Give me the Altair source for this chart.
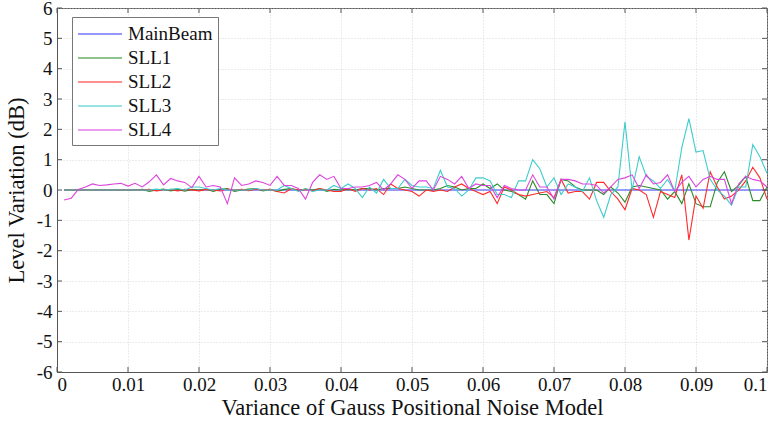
import altair as alt
import pandas as pd

# sampling grid: 0.001 .. 0.100
x_vals = [round(0.001 * i, 3) for i in range(1, 101)]

series_names = ["MainBeam", "SLL1", "SLL2", "SLL3", "SLL4"]
series_colors = ["#3a3aff", "#2a8c2a", "#ff2a2a", "#3ccccc", "#dd44dd"]

main_beam = [0.0] * 100

sll1 = [0, 0, 0, 0, 0, 0, 0, 0, 0, 0,
        0, 0.02, -0.05, 0, 0.03, -0.03, 0.02, -0.04, 0.02, 0,
        0.03, -0.05, 0.02, 0.05, -0.05, 0, 0.03, 0.05, -0.03, 0.02,
        -0.05, 0.02, 0.05, -0.02, 0.03, 0, 0.05, -0.05, 0.02, 0,
        0.02, 0, 0.05, 0.05, 0, 0.05, 0.05, 0.05, 0.1, 0.05,
        0, 0, 0, 0.05, 0.15, 0.1, 0, 0.05, 0.05, 0.2,
        0.05, 0.2, 0, -0.05, -0.15, -0.3, 0.3, -0.15, -0.15, -0.45,
        0.35, 0.3, 0.1, 0, 0, 0, -0.15, 0.1, -0.1, -0.4,
        0.1, 0.15, 0.1, 0.05, 0, -0.3, -0.05, -0.45, 0.2, -0.45,
        -0.55, -0.55, 0.25, 0.6, -0.05, 0.15, 0.45, -0.35, -0.35, 0.1]

sll2 = [0, 0, 0, 0, 0, 0, 0, 0, 0, 0,
        0, 0, 0.02, -0.03, 0, 0.02, -0.03, 0.02, 0, -0.03,
        0.02, 0, -0.03, 0.03, 0, 0.02, -0.02, 0.03, 0, 0.02,
        -0.05, -0.1, 0.05, 0, 0.02, -0.03, 0.05, 0, -0.05, -0.05,
        0.05, -0.05, 0.05, 0, 0.05, -0.15, 0.2, 0.05, 0, -0.05,
        -0.2, 0, -0.05, 0, -0.05, 0.1, 0.2, 0.05, -0.05, -0.15,
        -0.05, -0.45, 0.1, 0, -0.15, -0.2, -0.15, -0.1, -0.05, -0.25,
        0.35, -0.1, -0.05, -0.05, -0.3, 0.25, 0.25, -0.05, -0.3, -0.65,
        0.05, 0, -0.15, -0.9, -0.05, -0.15, -0.25, 0.5, -1.65, -0.2,
        -0.6, 0.6, 0.1, -0.3, -0.2, 0, 0.3, 0.75, 0.4, -0.3]

sll3 = [0, 0, 0, 0, 0, 0, 0, 0, 0, 0,
        0, 0, 0, 0.03, 0, 0.02, 0.05, 0, 0.1, 0.1,
        0.05, 0, 0.05, 0, 0, 0, 0, 0.05, 0, 0,
        0, 0.15, 0.05, -0.05, 0.05, -0.05, 0, 0, 0.15, 0.05,
        0.2, 0.05, -0.25, 0.1, -0.1, 0.35, 0.05, 0.05, 0.35, 0.15,
        0.1, 0.1, 0.05, 0.65, 0.1, 0.05, -0.2, 0, 0.4, 0.4,
        0.3, -0.15, -0.15, -0.25, 0.3, 0.3, 1.0, 0.7, 0.1, 0.4,
        -0.15, 0.2, 0.1, -0.05, 0.4, -0.35, -0.9, -0.15, 0.1, 2.25,
        0, 1.1, 0.45, 0.3, 0.05, 0.35, -0.05, 1.4, 2.35, 1.25,
        1.3, 0.35, 0, -0.2, -0.5, 0.1, 0.1, 1.5, 1.1, 0.55]

sll4 = [-0.33, -0.27, 0.02, 0.1, 0.2, 0.15, 0.17, 0.2, 0.22, 0.13,
        0.22, 0.1, 0.27, 0.5, 0.17, 0.38, 0.3, 0.25, 0.08, 0.45,
        0.1, 0.15, 0.1, -0.45, 0.4, 0.15, 0.2, 0.3, 0.25, 0.15,
        0.45, 0.15, 0.15, 0.05, -0.3, 0.25, 0.5, 0.35, 0.45, 0.05,
        0.05, 0.1, 0.1, 0.15, 0.25, 0, 0.2, 0.5, 0.35, 0.05,
        0.3, 0.3, 0, 0.45, 0.35, 0.2, 0.45, 0.05, 0.2, 0.15,
        0.15, -0.25, 0.15, 0.05, 0, 0, 0.5, 0.1, 0.1, -0.3,
        0.35, 0.35, 0.3, 0.2, 0.2, 0.15, -0.1, 0.1, 0.35, 0.4,
        0.5, 0.05, 0.5, 0.2, 0.25, 0.5, -0.05, 0.25, 0.45, 0.1,
        0.35, 0.45, 0.35, 0.35, -0.45, 0.2, 0.45, 0.35, 0.3, 0.1]

x_ticks = [0, 0.01, 0.02, 0.03, 0.04, 0.05, 0.06, 0.07, 0.08, 0.09, 0.1]
y_ticks = [-6, -5, -4, -3, -2, -1, 0, 1, 2, 3, 4, 5, 6]

rows = []
for order, (name, vals) in enumerate(zip(series_names, [main_beam, sll1, sll2, sll3, sll4])):
    for xv, yv in zip(x_vals, vals):
        rows.append({"x": xv, "y": yv, "series": name, "order": order})
df = pd.DataFrame(rows)
xt = pd.DataFrame({"x": x_ticks})
yt = pd.DataFrame({"y": y_ticks})

FONT = "Liberation Serif"
W, H = 710, 364
TICK = 5
TICK_COLOR = "#555"

x_scale = alt.Scale(domain=[0, 0.1], nice=False)
y_scale = alt.Scale(domain=[-6, 6], nice=False)

x_axis = alt.Axis(values=x_ticks, labelExpr="'' + datum.value",
                  title="Variance of Gauss Positional Noise Model",
                  titlePadding=2, labelPadding=3, ticks=False,
                  labelOverlap=False)
y_axis = alt.Axis(values=y_ticks, labelExpr="'' + datum.value",
                  title="Level Variation (dB)",
                  titlePadding=8, labelPadding=5, ticks=False,
                  labelOverlap=False)

lines = alt.Chart(df).mark_line(strokeWidth=1.1).encode(
    x=alt.X("x:Q", scale=x_scale, axis=x_axis),
    y=alt.Y("y:Q", scale=y_scale, axis=y_axis),
    color=alt.Color("series:N",
                    scale=alt.Scale(domain=series_names, range=series_colors),
                    sort=series_names,
                    legend=alt.Legend(title=None, orient="none",
                                      legendX=15, legendY=9,
                                      fillColor="white", strokeColor="#777",
                                      padding=5, rowPadding=2,
                                      symbolType="M-1,0H3", symbolSize=484,
                                      symbolStrokeWidth=1.5, symbolOpacity=0.7,
                                      symbolFillColor="transparent",
                                      labelFont=FONT, labelFontSize=19,
                                      labelColor="#111", labelOffset=27)),
    order=alt.Order("order:Q"),
    detail="series:N",
)

# inward tick marks on all four sides (MATLAB style box)
bottom_ticks = alt.Chart(xt).mark_rule(color=TICK_COLOR, strokeWidth=1).encode(
    x=alt.X("x:Q", scale=x_scale, axis=x_axis), y=alt.value(H), y2=alt.value(H - TICK))
top_ticks = alt.Chart(xt).mark_rule(color=TICK_COLOR, strokeWidth=1).encode(
    x=alt.X("x:Q", scale=x_scale, axis=x_axis), y=alt.value(0), y2=alt.value(TICK))
left_ticks = alt.Chart(yt).mark_rule(color=TICK_COLOR, strokeWidth=1).encode(
    y=alt.Y("y:Q", scale=y_scale, axis=y_axis), x=alt.value(0), x2=alt.value(TICK))
right_ticks = alt.Chart(yt).mark_rule(color=TICK_COLOR, strokeWidth=1).encode(
    y=alt.Y("y:Q", scale=y_scale, axis=y_axis), x=alt.value(W), x2=alt.value(W - TICK))

chart = alt.layer(
    lines, bottom_ticks, top_ticks, left_ticks, right_ticks
).properties(
    width=W, height=H,
    autosize=alt.AutoSizeParams(type="none"),
    padding={"left": 57, "top": 8, "right": 11, "bottom": 55},
).configure_axis(
    labelFont=FONT, titleFont=FONT,
    labelFontSize=19, titleFontSize=22.5, titleFontWeight="normal",
    labelColor="#111", titleColor="#111",
    grid=True, gridColor="#cfcfcf", gridDash=[1, 2], gridWidth=0.8,
    domainColor="#555",
).configure_view(stroke="#555", strokeWidth=1)

chart.save("out.html", embed_options={"renderer": "svg", "actions": False})
